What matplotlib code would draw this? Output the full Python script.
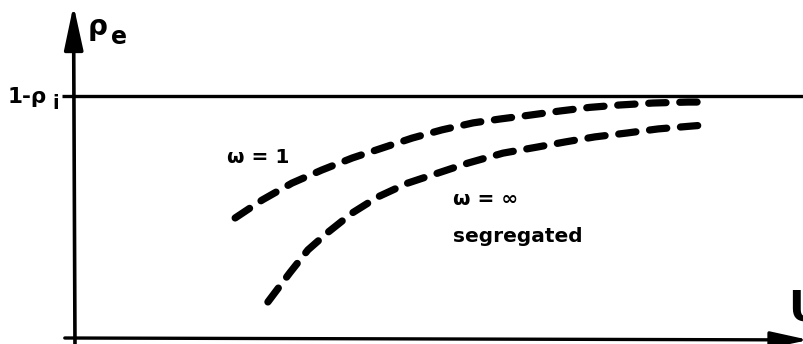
import numpy as np
import matplotlib
matplotlib.use("Agg")
import matplotlib.pyplot as plt
from matplotlib.patches import FancyArrowPatch, ArrowStyle

# curve omega = 1 (U in arbitrary units, rho_e relative to 1-rho_i = 1)
u_w1 = [2.20, 2.57, 2.98, 3.39, 3.81, 4.22, 4.63, 5.04, 5.47, 5.84, 6.25, 6.66, 7.07, 7.49, 7.94, 8.42, 8.63]
rho_w1 = [0.496, 0.570, 0.640, 0.694, 0.744, 0.785, 0.826, 0.860, 0.889, 0.905, 0.921, 0.938, 0.953, 0.963, 0.971, 0.975, 0.975]

# curve omega = infinity (segregated)
u_winf = [2.65, 2.95, 3.20, 3.48, 3.81, 4.16, 4.57, 4.99, 5.40, 5.88, 6.35, 6.73, 7.14, 7.58, 8.01, 8.48, 8.65]
rho_winf = [0.149, 0.269, 0.364, 0.438, 0.517, 0.583, 0.640, 0.682, 0.723, 0.764, 0.789, 0.810, 0.831, 0.847, 0.864, 0.876, 0.880]

limit_level = 1.0  # 1 - rho_i

fig = plt.figure(figsize=(8.04, 3.44), dpi=100)
ax = fig.add_axes([0, 0, 1, 1])
ax.set_xlim(-1.030, 10.014)
ax.set_ylim(-0.0248, 1.3967)
ax.axis("off")

# horizontal asymptote
ax.plot([-0.18, 10.1], [limit_level, limit_level], color="black", lw=2.4, solid_capstyle="butt")

# axes with arrows
style_y = ArrowStyle("-|>", head_length=27, head_width=5.8)
style_x = ArrowStyle("-|>", head_length=23, head_width=5.0)
ax.add_patch(FancyArrowPatch((0, -0.03), (-0.02, 1.375), arrowstyle=style_y,
                             mutation_scale=1, lw=2.6, color="black",
                             shrinkA=0, shrinkB=0))
ax.add_patch(FancyArrowPatch((-0.14, 0.0), (10.08, -0.008), arrowstyle=style_x,
                             mutation_scale=1, lw=2.4, color="black",
                             shrinkA=0, shrinkB=0))

# dashed curves
for u, r in [(u_w1, rho_w1), (u_winf, rho_winf)]:
    ax.plot(u, r, color="black", lw=5.2, linestyle=(0, (2.4, 1.9)),
            dash_capstyle="round", dash_joinstyle="round")

# labels
lab = dict(fontweight="bold")
fs = 14.5
ax.text(0.17, 1.285, "ρ", fontsize=20, ha="left", va="center", **lab)
ax.text(0.49, 1.244, "e", fontsize=17, ha="left", va="center", **lab)
ax.text(-0.93, 0.971, "1-ρ", fontsize=15.5, ha="left", va="baseline", **lab)
ax.text(-0.31, 0.945, "i", fontsize=14, ha="left", va="baseline", **lab)
ax.text(2.09, 0.723, "ω = 1", fontsize=fs, ha="left", va="baseline", **lab)
ax.text(5.19, 0.550, "ω = ∞", fontsize=fs, ha="left", va="baseline", **lab)
ax.text(5.19, 0.397, "segregated", fontsize=fs, ha="left", va="baseline", **lab)
ax.text(9.80, 0.074, "U", fontsize=30, ha="left", va="baseline", **lab)

fig.savefig("out.png", dpi=100)
